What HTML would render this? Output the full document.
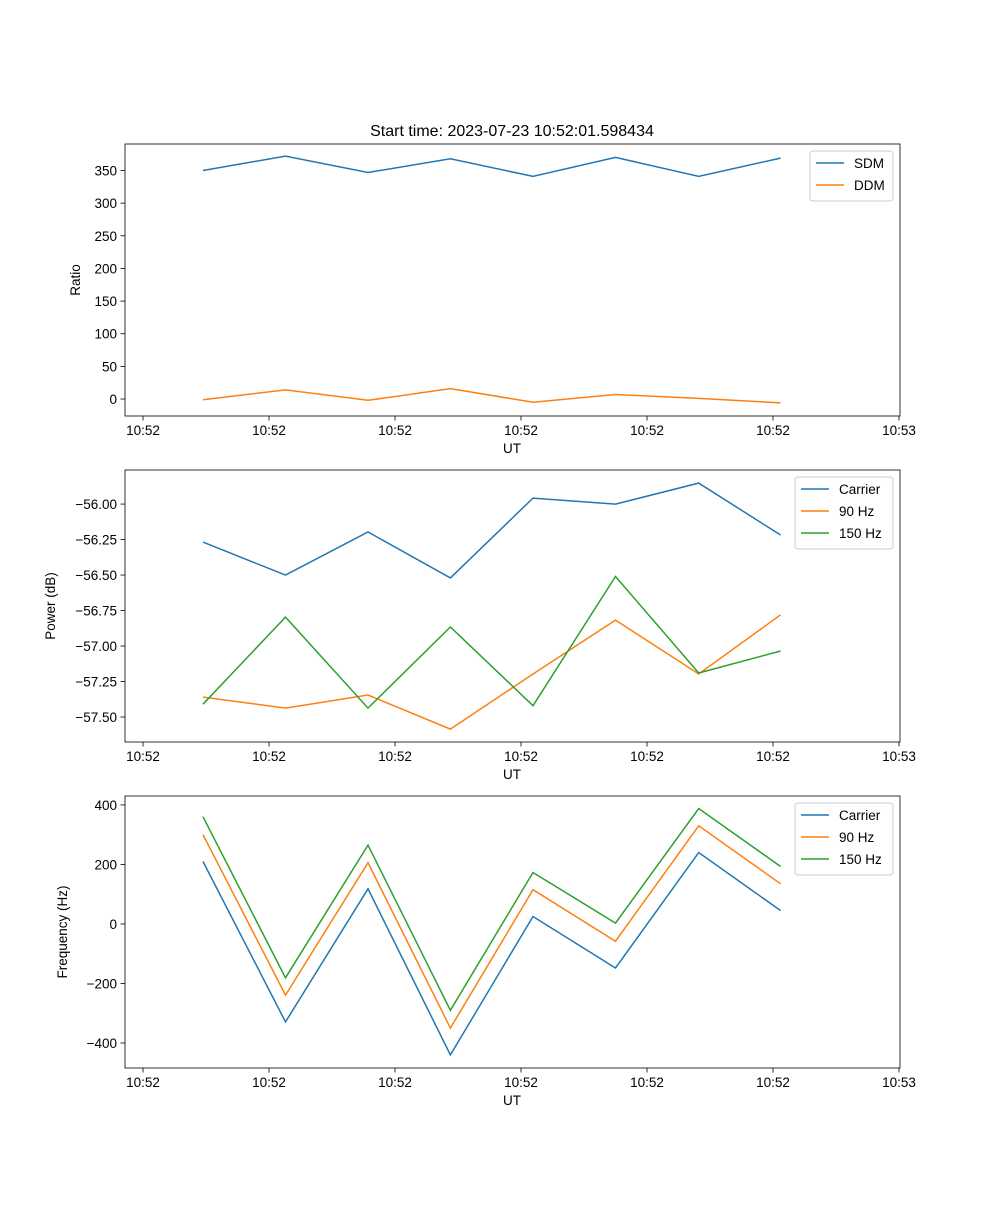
<!DOCTYPE html>
<html><head><meta charset="utf-8"><style>
body{margin:0;background:#fff;}
svg text{font-family:"Liberation Sans","DejaVu Sans",sans-serif;fill:#000;}
</style></head><body>
<svg id="fig" width="1000" height="1200" xmlns="http://www.w3.org/2000/svg">
<rect width="1000" height="1200" fill="#fff"/>
<text x="512" y="136" font-size="16" text-anchor="middle">Start time: 2023-07-23 10:52:01.598434</text>
</svg>
<script>
const times = [4.76, 11.31, 17.86, 24.4, 30.95, 37.5, 44.1, 50.6];
const xTickVals = [0, 10, 20, 30, 40, 50, 60];
const xTickLabels = ["10:52","10:52","10:52","10:52","10:52","10:52","10:53"];

const sdm = [350, 372, 347, 368, 341, 370, 341, 369];
const ddm = [-1, 14, -2, 16, -5, 7, 1, -6];
const ratioTicks = [0, 50, 100, 150, 200, 250, 300, 350];

const powCarrier = [-56.268, -56.5, -56.197, -56.52, -55.958, -56.0, -55.852, -56.218];
const pow90 = [-57.36, -57.437, -57.345, -57.585, -57.197, -56.817, -57.197, -56.78];
const pow150 = [-57.41, -56.796, -57.437, -56.866, -57.42, -56.51, -57.19, -57.035];
const powTicks = [-57.5, -57.25, -57.0, -56.75, -56.5, -56.25, -56.0];

const freqCarrier = [210, -329, 118, -440, 25, -148, 240, 45];
const freq90 = [300, -239, 206, -350, 115, -58, 330, 135];
const freq150 = [360, -181, 265, -290, 173, 3, 388, 193];
const freqTicks = [-400, -200, 0, 200, 400];

const NS = "http://www.w3.org/2000/svg";
const svg = document.getElementById('fig');
function mk(tag, attrs, parent){const e=document.createElementNS(NS,tag);for(const k in attrs)e.setAttribute(k,attrs[k]);(parent||svg).appendChild(e);return e;}

const L=125,R=900;
const xmin=-1.43,xmax=60.08;
function xs(t){return L+(t-xmin)/(xmax-xmin)*(R-L);}
const colors=["#1f77b4","#ff7f0e","#2ca02c"];

function panel(name, top, bottom, ymin, ymax, ticks, fmt, ylabel, ylabelX, series, names, legend){
  const g=mk('g',{});
  
  
  function ys(v){return bottom-(v-ymin)/(ymax-ymin)*(bottom-top);}
  series.forEach((s,i)=>{
    const pts=s.map((v,j)=>xs(times[j]).toFixed(1)+','+ys(v).toFixed(1)).join(' ');
    const pl=mk('polyline',{points:pts,fill:'none',stroke:colors[i],'stroke-width':1.5},g);
    
    
  });
  const fr=mk('rect',{x:L,y:top,width:R-L,height:bottom-top,fill:'none',stroke:'#000','stroke-width':0.8},g);
  
  
  xTickVals.forEach((t,i)=>{
    const x=xs(t);
    mk('line',{x1:x,x2:x,y1:bottom,y2:bottom+4.5,stroke:'#000','stroke-width':0.8},g);
    const tx=mk('text',{x:x,y:bottom+19,'font-size':13.5,'text-anchor':'middle'},g);
    tx.textContent=xTickLabels[i];
    
    
  });
  ticks.forEach(v=>{
    const y=ys(v);
    mk('line',{x1:L,x2:L-4.5,y1:y,y2:y,stroke:'#000','stroke-width':0.8},g);
    const tx=mk('text',{x:L-8,y:y+5,'font-size':13.5,'text-anchor':'end'},g);
    tx.textContent=fmt(v);
    
    
  });
  const xl=mk('text',{x:512,y:bottom+37,'font-size':13.5,'text-anchor':'middle'},g);
  xl.textContent='UT';
  
  
  const cy=(top+bottom)/2;
  const yl=mk('text',{x:ylabelX,y:cy,'font-size':13.5,'text-anchor':'middle',transform:`rotate(-90 ${ylabelX} ${cy})`},g);
  yl.textContent=ylabel;
  
  
  const lg=mk('g',{},g);
  
  
  mk('rect',{x:legend[0],y:top+7,width:R-7-legend[0],height:names.length*22+6,fill:'#fff',stroke:'#ccc',rx:3},lg);
  names.forEach((n,i)=>{
    const yy=top+19+i*22;
    mk('line',{x1:legend[0]+6,x2:legend[0]+34,y1:yy,y2:yy,stroke:colors[i],'stroke-width':1.5},lg);
    const t=mk('text',{x:legend[0]+44,y:yy+5,'font-size':13.5},lg);
    t.textContent=n;
    
    
  });
}
function fmt2(v){return v.toFixed(2).replace('-','\u2212');}
function fmt0(v){return String(v).replace('-','\u2212');}
panel('ratio',144,416,-26,390.6,ratioTicks,fmt0,'Ratio',80,[sdm,ddm],['SDM','DDM'],[810]);
panel('power',470,742,-57.676,-55.76,powTicks,fmt2,'Power (dB)',55,[powCarrier,pow90,pow150],['Carrier','90 Hz','150 Hz'],[795]);
panel('frequency',796,1068,-484,430,freqTicks,fmt0,'Frequency (Hz)',67,[freqCarrier,freq90,freq150],['Carrier','90 Hz','150 Hz'],[795]);
</script>
</body></html>
